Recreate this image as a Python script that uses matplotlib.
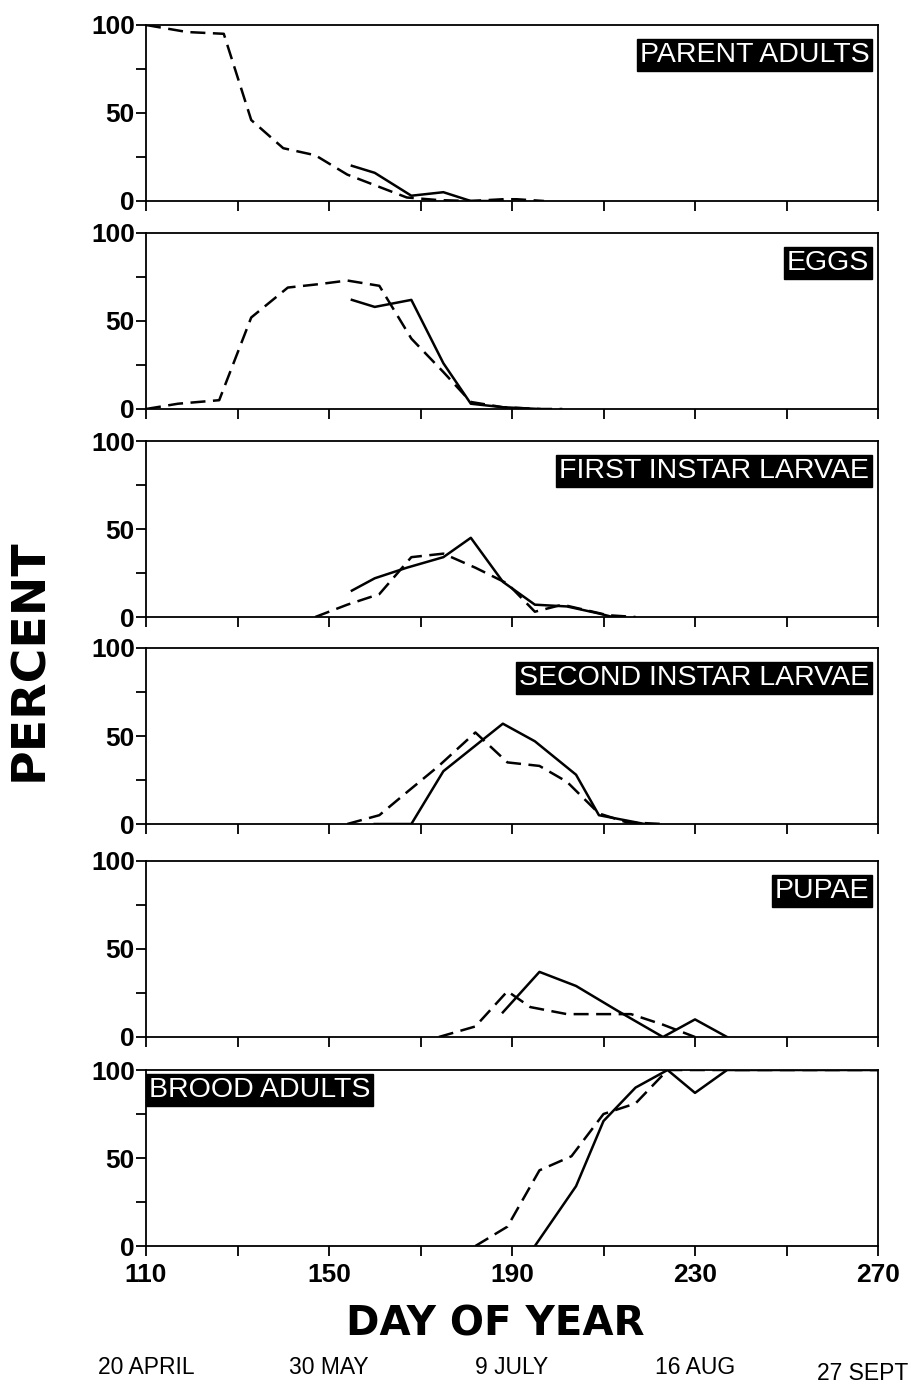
import matplotlib
matplotlib.use("Agg")
import matplotlib.pyplot as plt
from matplotlib.ticker import FixedLocator, NullFormatter
from matplotlib.transforms import blended_transform_factory

# Seasonal abundance of each life stage (percent), two series per stage
stages = ["PARENT ADULTS", "EGGS", "FIRST INSTAR LARVAE",
          "SECOND INSTAR LARVAE", "PUPAE", "BROOD ADULTS"]

parent_dash_day = [110, 119, 127, 133, 140, 147, 154, 161, 167, 174, 181, 188, 191, 197]
parent_dash_pct = [100, 96, 95, 46, 30, 26, 15, 8, 2, 0.5, 0, 1, 1, 0]
parent_solid_day = [155, 160, 168, 175, 181, 188]
parent_solid_pct = [20, 16, 3, 5, 0, 0]

eggs_dash_day = [110, 117, 126, 133, 141, 148, 154, 161, 168, 175, 181, 188, 196, 201]
eggs_dash_pct = [0, 3, 5, 52, 69, 71, 73, 70, 40, 21, 4, 1, 0, 0]
eggs_solid_day = [155, 160, 168, 175, 181, 188, 196]
eggs_solid_pct = [62, 58, 62, 26, 3, 1, 0]

first_dash_day = [147, 154, 161, 168, 175, 182, 189, 195, 201, 206, 211, 217]
first_dash_pct = [0, 7, 13, 34, 36, 28, 19, 3, 7, 4, 1, 0]
first_solid_day = [155, 160, 167, 175, 181, 188, 195, 202, 209, 212]
first_solid_pct = [15, 22, 28, 34, 45, 20, 7, 6, 2, 0]

second_dash_day = [154, 161, 167, 174, 182, 189, 196, 202, 209, 215, 223]
second_dash_pct = [0, 5, 18, 33, 52, 35, 33, 24, 6, 1, 0]
second_solid_day = [160, 168, 175, 188, 195, 204, 209, 215, 219]
second_solid_pct = [0, 0, 30, 57, 47, 28, 5, 2, 0]

pupae_dash_day = [174, 182, 189, 194, 202, 209, 216, 223, 230]
pupae_dash_pct = [0, 6, 26, 17, 13, 13, 13, 7, 0]
pupae_solid_day = [188, 196, 204, 213, 223, 230, 237]
pupae_solid_pct = [14, 37, 29, 15, 0, 10, 0]

brood_dash_day = [182, 189, 196, 203, 210, 217, 224, 237, 270]
brood_dash_pct = [0, 11, 43, 51, 75, 81, 100, 100, 100]
brood_solid_day = [195, 204, 210, 217, 224, 230, 237, 270]
brood_solid_pct = [0, 34, 71, 90, 100, 87, 100, 100]

dash_series = [(parent_dash_day, parent_dash_pct), (eggs_dash_day, eggs_dash_pct),
               (first_dash_day, first_dash_pct), (second_dash_day, second_dash_pct),
               (pupae_dash_day, pupae_dash_pct), (brood_dash_day, brood_dash_pct)]
solid_series = [(parent_solid_day, parent_solid_pct), (eggs_solid_day, eggs_solid_pct),
                (first_solid_day, first_solid_pct), (second_solid_day, second_solid_pct),
                (pupae_solid_day, pupae_solid_pct), (brood_solid_day, brood_solid_pct)]

x_labels = [110, 150, 190, 230, 270]
x_minor = [130, 170, 210, 250]
dates = ["20 APRIL", "30 MAY", "9 JULY", "16 AUG", "27 SEPT"]

sans = ["Liberation Sans", "DejaVu Sans"]

W, H = 911, 1392
fig = plt.figure(figsize=(W / 100, H / 100), dpi=100)
fig.patch.set_facecolor("white")

left_px, right_px = 146, 878
panel_tops = [25, 233, 441, 648, 861, 1070]
panel_h = 176

axes = []
for i, top in enumerate(panel_tops):
    ax = fig.add_axes([left_px / W, 1 - (top + panel_h) / H,
                       (right_px - left_px) / W, panel_h / H])
    axes.append(ax)

    dd, dp = dash_series[i]
    sd, sp = solid_series[i]
    ax.plot(dd, dp, color="black", lw=1.8, dashes=(6, 3))
    ax.plot(sd, sp, color="black", lw=1.8)

    ax.set_xlim(110, 270)
    ax.set_ylim(0, 100)

    for s in ax.spines.values():
        s.set_linewidth(1.3)

    ax.yaxis.set_major_locator(FixedLocator([0, 50, 100]))
    ax.yaxis.set_minor_locator(FixedLocator([25, 75]))
    ax.xaxis.set_major_locator(FixedLocator(x_labels))
    ax.xaxis.set_minor_locator(FixedLocator(x_minor))
    ax.tick_params(axis="both", which="both", direction="out", length=7,
                   width=1.3, top=False, right=False)
    ax.tick_params(axis="y", which="major", pad=1)
    for lab in ax.get_yticklabels():
        lab.set_family(sans)
        lab.set_fontweight("bold")
        lab.set_fontsize(19)
    if i < len(panel_tops) - 1:
        ax.xaxis.set_major_formatter(NullFormatter())
    else:
        ax.tick_params(axis="x", which="major", pad=5)
        for lab in ax.get_xticklabels():
            lab.set_family(sans)
            lab.set_fontweight("bold")
            lab.set_fontsize(19)

    # stage name in a black box
    if stages[i] == "BROOD ADULTS":
        pos, ha = (0.004, 0.96), "left"
    else:
        pos, ha = (0.988, 0.905), "right"
    ax.text(pos[0], pos[1], stages[i], transform=ax.transAxes, ha=ha, va="top",
            color="white", fontsize=20.5, family=sans,
            bbox=dict(boxstyle="square,pad=0.1", facecolor="black", edgecolor="black"))

bottom = axes[-1]
trans = blended_transform_factory(bottom.transData, fig.transFigure)
for d, lab in zip(x_labels, dates):
    if d == x_labels[-1]:
        fig.text(0.997, 1 - 1374 / H, lab, ha="right", va="center",
                 fontsize=16.5, family=sans)
    else:
        bottom.text(d, 1 - 1367 / H, lab, transform=trans, ha="center", va="center",
                    fontsize=16.5, family=sans)

fig.text(495 / W, 1 - 1325 / H, "DAY OF YEAR", ha="center", va="center",
         fontsize=29, fontweight="heavy", family="DejaVu Sans")
fig.text(30 / W, 1 - 660 / H, "PERCENT", ha="center", va="center", rotation=90,
         fontsize=34, fontweight="heavy", family="DejaVu Sans")

fig.savefig("out.png", dpi=100, facecolor="white")
